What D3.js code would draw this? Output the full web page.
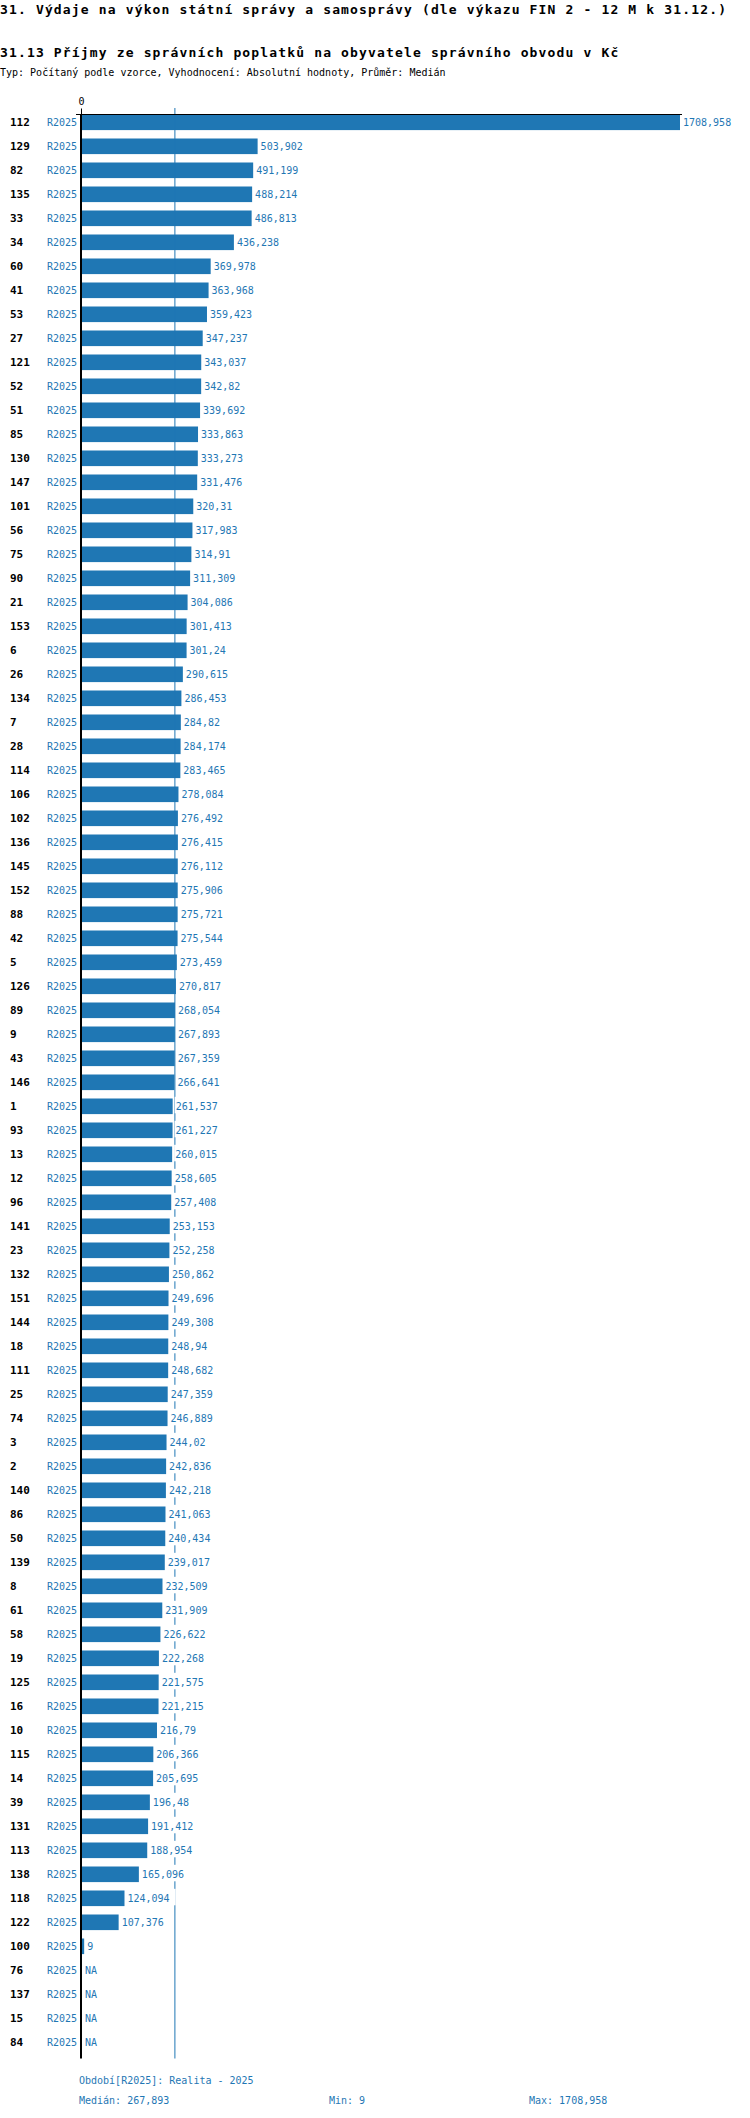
<!DOCTYPE html>
<html>
<head>
<meta charset="utf-8">
<script src="https://cdn.jsdelivr.net/npm/d3@7"></script>
<style>
  body { margin: 0; background: #fff; }
  svg { display: block; font-family: "DejaVu Sans Mono", monospace; }
</style>
</head>
<body>
<div id="chart"></div>
<script>
(function () {
  // ---- data (values in Kč per inhabitant, null = NA)
  const categories = ["112","129","82","135","33","34","60","41","53","27","121","52","51","85","130","147","101","56","75","90","21","153","6","26","134","7","28","114","106","102","136","145","152","88","42","5","126","89","9","43","146","1","93","13","12","96","141","23","132","151","144","18","111","25","74","3","2","140","86","50","139","8","61","58","19","125","16","10","115","14","39","131","113","138","118","122","100","76","137","15","84"];
  const values = [1708.958,503.902,491.199,488.214,486.813,436.238,369.978,363.968,359.423,347.237,343.037,342.82,339.692,333.863,333.273,331.476,320.31,317.983,314.91,311.309,304.086,301.413,301.24,290.615,286.453,284.82,284.174,283.465,278.084,276.492,276.415,276.112,275.906,275.721,275.544,273.459,270.817,268.054,267.893,267.359,266.641,261.537,261.227,260.015,258.605,257.408,253.153,252.258,250.862,249.696,249.308,248.94,248.682,247.359,246.889,244.02,242.836,242.218,241.063,240.434,239.017,232.509,231.909,226.622,222.268,221.575,221.215,216.79,206.366,205.695,196.48,191.412,188.954,165.096,124.094,107.376,9,null,null,null,null];
  const period = "R2025";
  const xTicks = [0];
  const stats = { median: 267.893, min: 9, max: 1708.958 };

  const title = "31. Výdaje na výkon státní správy a samosprávy (dle výkazu FIN 2 - 12 M k 31.12.)";
  const subtitle = "31.13 Příjmy ze správních poplatků na obyvatele správního obvodu v Kč";
  const typeLine = "Typ: Počítaný podle vzorce, Vyhodnocení: Absolutní hodnoty, Průměr: Medián";
  const periodNote = "Období[R2025]: Realita - 2025";

  const blue = "#1f77b4";
  const fmt = (v) => (v == null ? "NA" : String(v).replace(".", ","));

  const data = categories.map((c, i) => ({ cat: c, value: values[i] }));

  const W = 750, H = 2118;
  const top = 114.5, step = 24;

  const svg = d3.select("#chart").append("svg")
    .attr("width", W).attr("height", H);

  // ---- headings
  svg.append("text").attr("x", 0).attr("y", 14)
    .style("font-size", "13px").style("font-weight", "bold")
    .style("letter-spacing", "1.15px").text(title);
  svg.append("text").attr("x", 0).attr("y", 57)
    .style("font-size", "13px").style("font-weight", "bold")
    .style("letter-spacing", "1.15px").text(subtitle);
  svg.append("text").attr("x", 0).attr("y", 76)
    .style("font-size", "10px").text(typeLine);

  // ---- scales
  const x = d3.scaleLinear().domain([0, d3.max(values)]).range([81, 680]);
  const y = d3.scaleBand()
    .domain(categories)
    .range([top, top + categories.length * step])
    .paddingInner(0.35).paddingOuter(0.175).align(0);
  const yEnd = top + categories.length * step;

  // ---- bars
  svg.append("g").selectAll("rect")
    .data(data.filter((d) => d.value != null))
    .join("rect")
    .attr("x", x(0))
    .attr("y", (d) => y(d.cat))
    .attr("width", (d) => Math.max(3, x(d.value) - x(0)))
    .attr("height", y.bandwidth())
    .attr("fill", blue);

  // ---- median line
  svg.append("line")
    .attr("x1", x(stats.median)).attr("x2", x(stats.median))
    .attr("y1", 108).attr("y2", yEnd)
    .attr("stroke", blue).attr("stroke-width", 1);

  // ---- top axis
  const xAxis = svg.append("g")
    .attr("transform", `translate(0,${top})`)
    .call(d3.axisTop(x).tickValues(xTicks).tickSize(6).tickSizeOuter(0));
  xAxis.select(".domain").attr("d", `M76,0H686`).attr("stroke", "#000");
  xAxis.selectAll(".tick text")
    .style("font-family", "DejaVu Sans Mono, monospace")
    .style("font-size", "10px").attr("dy", "-0.1em");

  // ---- vertical axis line
  svg.append("line")
    .attr("x1", 81).attr("x2", 81)
    .attr("y1", top - 0.5).attr("y2", yEnd)
    .attr("stroke", "#000").attr("stroke-width", 2);

  // ---- row labels
  const rows = svg.append("g").selectAll("g")
    .data(data).join("g")
    .attr("transform", (d) => `translate(0,${y(d.cat) + y.bandwidth() / 2})`);

  rows.append("text")
    .attr("x", 10).attr("dy", "0.36em")
    .style("font-size", "11px").style("font-weight", "bold")
    .text((d) => d.cat);

  rows.append("text")
    .attr("x", 77).attr("dy", "0.36em")
    .attr("text-anchor", "end")
    .style("font-size", "10px").attr("fill", blue)
    .text(period);

  // value labels with white backing so the median line breaks behind them
  rows.each(function (d) {
    const g = d3.select(this);
    const lx = d.value == null ? x(0) + 4 : x(0) + Math.max(3, x(d.value) - x(0)) + 3;
    const bg = g.append("rect").attr("fill", "#fff");
    const t = g.append("text")
      .attr("x", lx).attr("dy", "0.36em")
      .style("font-size", "10px").attr("fill", blue)
      .text(fmt(d.value));
    const tw = t.node().getComputedTextLength();
    bg.attr("x", lx - 1).attr("y", -9.5).attr("width", tw + 7).attr("height", 16.5);
  });

  // ---- footer
  const foot = svg.append("g").style("font-size", "10px").attr("fill", blue);
  foot.append("text").attr("x", 79).attr("y", 2084).text(periodNote);
  foot.append("text").attr("x", 79).attr("y", 2104).text("Medián: " + fmt(stats.median));
  foot.append("text").attr("x", 329).attr("y", 2104).text("Min: " + fmt(stats.min));
  foot.append("text").attr("x", 529).attr("y", 2104).text("Max: " + fmt(stats.max));
})();
</script>
</body>
</html>
